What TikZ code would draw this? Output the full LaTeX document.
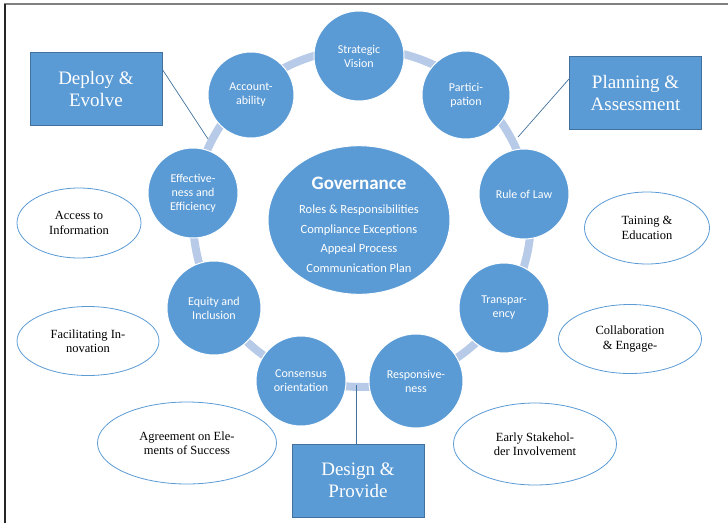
\documentclass[tikz,border=0pt]{standalone}
\usepackage{fontspec}
\setmainfont{Liberation Serif}
\setsansfont{Carlito}
\usetikzlibrary{shapes.geometric,backgrounds}
\definecolor{topic}{RGB}{91,155,213}
\definecolor{topicline}{RGB}{65,113,156}
\definecolor{ring}{RGB}{183,203,232}

\begin{document}
\begin{tikzpicture}[x=1pt, y=-1pt,
  topicnode/.style={circle, fill=topic, draw=white, line width=1pt, inner sep=0pt,
    align=center, text=white, font=\sffamily\fontsize{12}{14}\selectfont},
  phasebox/.style={rectangle, fill=topic, draw=topicline, line width=.8pt,
    minimum width=132pt, minimum height=73pt, align=center, text=white,
    font=\fontsize{19}{22}\selectfont},
  practice/.style={ellipse, draw=topic, line width=.8pt, fill=white, inner sep=0pt,
    align=center, font=\fontsize{12.5}{14.5}\selectfont},
  ringband/.style={draw=ring, line width=8pt},
  link/.style={draw=topicline, line width=.7pt}]
\useasboundingbox (0,0) rectangle (728,523);
% frame
\draw[gray, line width=2pt] (4,4) -- (728,4);
\draw[black!85, line width=2pt] (5,4) -- (5,523);

% centre
\node[ellipse, fill=topic, draw=white, line width=1pt, inner sep=0pt, minimum width=182pt,
  minimum height=131pt, align=center, text=white, font=\sffamily\fontsize{12.5}{19.5}\selectfont]
  at (359,220) (gov) {\rule{0pt}{22pt}{\bfseries\fontsize{19}{20}\selectfont Governance}\\[5pt]
  Roles \& Responsibilities\\ Compliance Exceptions\\ Appeal Process\\ Communication Plan};

% principles
\node[topicnode, minimum size=90pt] at (359,56) (vis) {Strategic\\ Vision};
\node[topicnode, minimum size=88pt] at (466,95) (par) {Partici-\\ pation};
\node[topicnode, minimum size=90pt] at (524,194) (law) {Rule of Law};
\node[topicnode, minimum size=90pt] at (504,308) (tra) {Transpar-\\ ency};
\node[topicnode, minimum size=94pt] at (416,381) (res) {Responsive-\\ ness};
\node[topicnode, minimum size=90pt] at (301,381) (con) {Consensus\\ orientation};
\node[topicnode, minimum size=94pt] at (214,308) (equ) {Equity and\\ Inclusion};
\node[topicnode, minimum size=90pt] at (193,193) (eff) {Effective-\\ ness and\\ Efficiency};
\node[topicnode, minimum size=86pt] at (251,95) (acc) {Account-\\ ability};

\begin{scope}[on background layer]
\draw[ringband] (362,218) circle[radius=169];
\end{scope}

% phases
\node[phasebox] at (96,88.5) (dep) {Deploy \&\\ Evolve};
\node[phasebox] at (635.5,93) (pla) {Planning \&\\ Assessment};
\node[phasebox] at (358,480.5) (des) {Design \&\\ Provide};

\coordinate (depend) at (208,139);
\coordinate (plaend) at (518,137);
\coordinate (desend) at (356,385);
\draw[link] (dep.16) -- (depend);
\draw[link] (pla.168) -- (plaend);
\draw[link] (des.north -| desend) -- (desend);

% practices
\node[practice, minimum width=124pt, minimum height=70pt] at (79,223) (acs) {Access to\\ Information};
\node[practice, minimum width=142pt, minimum height=69pt] at (88,341) (fac) {Facilitating In-\\ novation};
\node[practice, minimum width=179pt, minimum height=82pt] at (187,443) (agr) {Agreement on Ele-\\ ments of Success};
\node[practice, minimum width=125pt, minimum height=72pt] at (647,228) (tai) {Taining \&\\ Education};
\node[practice, minimum width=143pt, minimum height=69pt] at (630,339) (col) {Collaboration\\ \& Engage-};
\node[practice, minimum width=163pt, minimum height=82pt] at (535,444) (ear) {Early Stakehol-\\ der Involvement};
\end{tikzpicture}
\end{document}
